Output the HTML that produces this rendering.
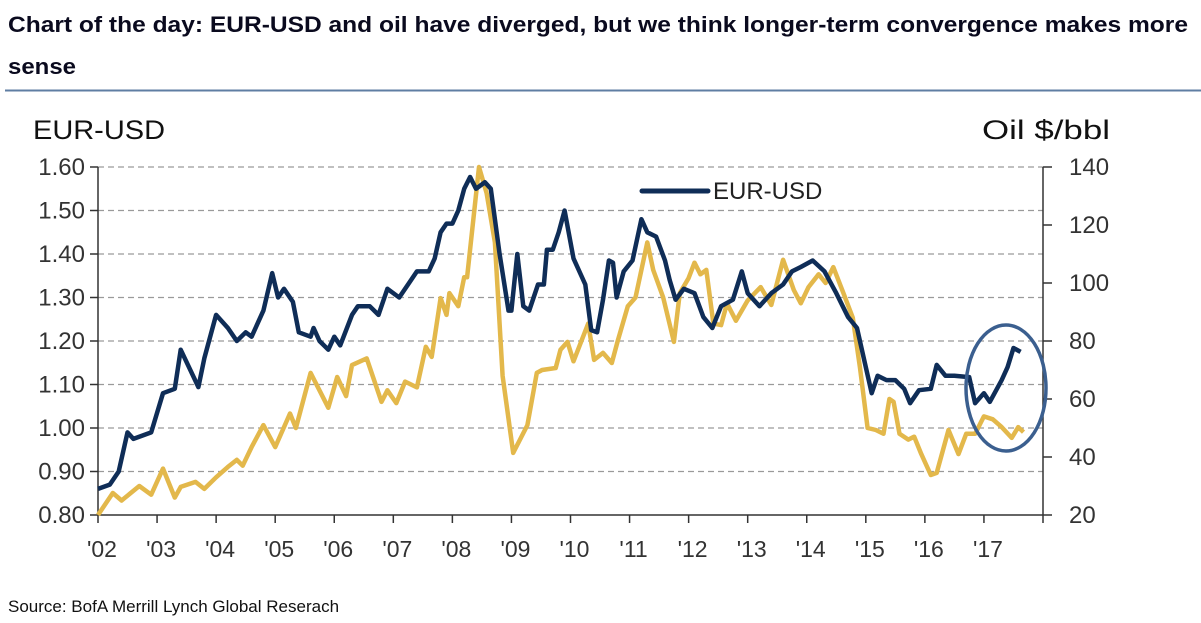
<!DOCTYPE html>
<html><head><meta charset="utf-8"><style>
html,body{margin:0;padding:0;background:#fff;width:1201px;height:623px;overflow:hidden}
svg{display:block}
.t{font-family:"Liberation Sans",Arial,sans-serif}
.n{font-family:"Liberation Sans Narrow","Arial Narrow","Liberation Sans",sans-serif}
</style></head><body>
<svg id="c" width="1201" height="623">
<text class="t" x="8" y="32" font-size="22.5" font-weight="bold" fill="#0a0a1e" textLength="1180" lengthAdjust="spacingAndGlyphs">Chart of the day: EUR-USD and oil have diverged, but we think longer-term convergence makes more</text>
<text class="t" x="8" y="74" font-size="22.5" font-weight="bold" fill="#0a0a1e" textLength="68" lengthAdjust="spacingAndGlyphs">sense</text>
<line x1="5" y1="90.5" x2="1201" y2="90.5" stroke="#5f7ea3" stroke-width="2"/>
<text class="t" x="33" y="139" font-size="27" fill="#111" textLength="132" lengthAdjust="spacingAndGlyphs">EUR-USD</text>
<text class="t" x="982" y="139" font-size="27" fill="#111" textLength="128" lengthAdjust="spacingAndGlyphs">Oil $/bbl</text>
<g id="grid"></g><g id="axes"></g><g id="series"></g>
<line x1="642" y1="191" x2="708" y2="191" stroke="#0f2d57" stroke-width="5" stroke-linecap="round"/>
<text class="n" x="713" y="199" font-size="24" fill="#222">EUR-USD</text>
<ellipse cx="1006" cy="388" rx="40" ry="63" fill="none" stroke="#3b5f8f" stroke-width="3.5"/>
<text class="t" x="8" y="612" font-size="17" fill="#111">Source: BofA Merrill Lynch Global Reserach</text>
</svg>
<script>
const eurT=[2002.0,2002.2,2002.35,2002.5,2002.6,2002.9,2003.1,2003.3,2003.4,2003.7,2003.8,2004.0,2004.2,2004.35,2004.5,2004.6,2004.8,2004.95,2005.05,2005.15,2005.3,2005.4,2005.6,2005.65,2005.75,2005.9,2006.0,2006.1,2006.3,2006.4,2006.6,2006.75,2006.9,2007.1,2007.3,2007.4,2007.6,2007.7,2007.8,2007.9,2008.0,2008.1,2008.2,2008.3,2008.4,2008.55,2008.65,2008.8,2008.95,2009.0,2009.1,2009.2,2009.3,2009.45,2009.55,2009.6,2009.7,2009.8,2009.9,2010.05,2010.25,2010.35,2010.45,2010.55,2010.65,2010.72,2010.78,2010.9,2011.05,2011.2,2011.3,2011.45,2011.6,2011.68,2011.78,2011.92,2012.1,2012.25,2012.4,2012.55,2012.75,2012.9,2013.0,2013.2,2013.4,2013.6,2013.75,2013.9,2014.1,2014.3,2014.5,2014.7,2014.85,2015.0,2015.1,2015.2,2015.35,2015.5,2015.65,2015.75,2015.9,2016.1,2016.2,2016.35,2016.5,2016.75,2016.85,2017.0,2017.1,2017.3,2017.4,2017.5,2017.62];
const eurV=[0.86,0.87,0.90,0.99,0.975,0.99,1.08,1.09,1.18,1.094,1.16,1.26,1.23,1.20,1.22,1.21,1.27,1.356,1.30,1.32,1.29,1.22,1.21,1.23,1.20,1.18,1.21,1.19,1.26,1.28,1.28,1.26,1.32,1.30,1.34,1.36,1.36,1.39,1.45,1.47,1.47,1.50,1.55,1.577,1.55,1.565,1.55,1.40,1.27,1.27,1.40,1.28,1.27,1.33,1.33,1.41,1.41,1.45,1.50,1.39,1.33,1.225,1.22,1.295,1.385,1.38,1.30,1.36,1.385,1.48,1.45,1.44,1.385,1.34,1.295,1.32,1.31,1.255,1.23,1.28,1.295,1.36,1.31,1.28,1.31,1.33,1.36,1.37,1.385,1.36,1.31,1.255,1.23,1.14,1.08,1.12,1.11,1.11,1.09,1.057,1.087,1.09,1.145,1.12,1.12,1.117,1.057,1.08,1.06,1.11,1.14,1.184,1.175];
const oilT=[2002.0,2002.25,2002.4,2002.7,2002.9,2003.1,2003.3,2003.4,2003.65,2003.8,2004.0,2004.2,2004.35,2004.45,2004.6,2004.8,2005.0,2005.25,2005.35,2005.6,2005.9,2006.05,2006.2,2006.3,2006.55,2006.8,2006.9,2007.05,2007.2,2007.4,2007.55,2007.65,2007.8,2007.9,2007.95,2008.1,2008.2,2008.25,2008.45,2008.58,2008.72,2008.85,2009.03,2009.27,2009.43,2009.52,2009.75,2009.83,2009.95,2010.05,2010.3,2010.4,2010.55,2010.7,2010.8,2010.97,2011.1,2011.3,2011.4,2011.57,2011.75,2011.85,2012.0,2012.1,2012.2,2012.3,2012.42,2012.55,2012.65,2012.8,2013.0,2013.22,2013.4,2013.6,2013.78,2013.9,2014.03,2014.2,2014.32,2014.45,2014.62,2014.78,2014.9,2015.03,2015.17,2015.3,2015.4,2015.47,2015.57,2015.72,2015.82,2015.94,2016.1,2016.2,2016.4,2016.57,2016.7,2016.85,2017.0,2017.15,2017.3,2017.47,2017.58,2017.67];
const oilV=[20,27.6,25,30,27,36,26,29.7,31.4,29,33,36.6,39,37,43.4,51,43.4,55,50,69,57,67.6,61,71.7,74,59,63,58.6,66,64,78,74.5,94.8,89,96.5,92,102,102,140,131,114,68,41.4,51,69,70,70.7,77,79.7,73,86,73.5,75.9,72.4,80,92,95,114,104.5,95,79.7,96.5,101.7,107,103,104.5,86,85.5,93,87,94,98.6,92.4,108,97.6,93,98.6,103,100,105.5,96.5,88,71,50,49.3,48,60,59,48,46,47,41,33.8,34.5,49.3,41,48,48,54,53,50.3,46.6,50.3,48.6];
const leftTicks=["0.80","0.90","1.00","1.10","1.20","1.30","1.40","1.50","1.60"];
const rightTicks=["20","40","60","80","100","120","140"];
const yearLabels=["'02","'03","'04","'05","'06","'07","'08","'09","'10","'11","'12","'13","'14","'15","'16","'17"];

const NS="http://www.w3.org/2000/svg";
const X0=98,X1=1043,Y0=515,Y1=167;
const xs=t=>X0+(t-2002)*(X1-X0)/16;
const yL=v=>Y0-(v-0.8)*(Y0-Y1)/0.8;
const yR=v=>Y0-(v-20)*(Y0-Y1)/120;
function mk(tag,attrs,parent){const e=document.createElementNS(NS,tag);for(const k in attrs)e.setAttribute(k,attrs[k]);document.getElementById(parent).appendChild(e);return e;}

leftTicks.forEach(l=>{const y=yL(+l);
  if(+l>0.8){const g=mk('line',{x1:X0,y1:y,x2:X1,y2:y,stroke:'#9a9a9a','stroke-width':1.2,'stroke-dasharray':'6,4'},'grid');
  
  }
  const tk=mk('line',{x1:X0-8,y1:y,x2:X0,y2:y,stroke:'#333','stroke-width':1.5},'axes');
  
  
  const t=mk('text',{x:85,y:y+8,'font-size':24,'text-anchor':'end',fill:'#333',class:'n'},'axes');t.textContent=l;
  
  
});
rightTicks.forEach(l=>{const y=yR(+l);
  const tk=mk('line',{x1:X1,y1:y,x2:X1+9,y2:y,stroke:'#333','stroke-width':1.5},'axes');
  
  
  const t=mk('text',{x:1069,y:y+8,'font-size':24,fill:'#333',class:'n'},'axes');t.textContent=l;
  
  
});
let a=mk('line',{x1:X0,y1:Y1,x2:X0,y2:Y0,stroke:'#333','stroke-width':1.5},'axes');


a=mk('line',{x1:X1,y1:Y1,x2:X1,y2:Y0,stroke:'#333','stroke-width':1.5},'axes');


a=mk('line',{x1:X0,y1:Y0,x2:X1,y2:Y0,stroke:'#333','stroke-width':1.5},'axes');


for(let i=0;i<=16;i++){const x=xs(2002+i);
  const tk=mk('line',{x1:x,y1:Y0,x2:x,y2:Y0+8,stroke:'#333','stroke-width':1.5},'axes');
  
  
}
yearLabels.forEach((l,i)=>{const t=mk('text',{x:xs(2002+i)+4,y:557,'font-size':23,'text-anchor':'middle',fill:'#333',class:'n'},'axes');t.textContent=l;
  
  
});
const pOil=oilT.map((t,i)=>xs(t).toFixed(1)+','+yR(oilV[i]).toFixed(1)).join(' ');
const o=mk('polyline',{points:pOil,fill:'none',stroke:'#e3b84b','stroke-width':4.5,'stroke-linejoin':'round'},'series');


const pEur=eurT.map((t,i)=>xs(t).toFixed(1)+','+yL(eurV[i]).toFixed(1)).join(' ');
const e=mk('polyline',{points:pEur,fill:'none',stroke:'#0f2d57','stroke-width':4.5,'stroke-linejoin':'round'},'series');


</script>
</body></html>
